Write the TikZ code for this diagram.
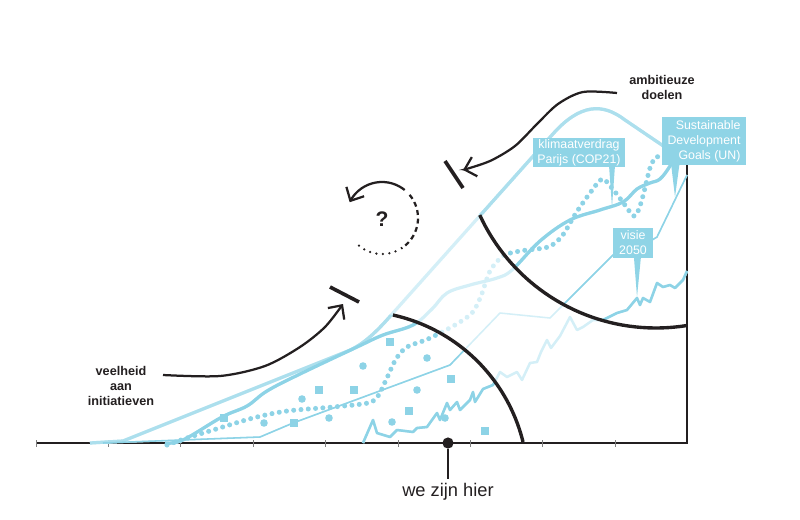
\documentclass[tikz,border=0pt]{standalone}
\usepackage{fontspec}
\setmainfont{Liberation Sans}
\usepackage{tikz}
\usetikzlibrary{arrows.meta}
\definecolor{trendblue}{RGB}{141,211,230}
\definecolor{paleblue}{RGB}{172,223,237}
\definecolor{fadeblue}{RGB}{212,239,247}
\definecolor{boxblue}{RGB}{143,212,230}
\definecolor{ink}{RGB}{35,31,32}
\tikzset{
        >={Straight Barb[length=2.6mm, width=5mm]}, % open arrow heads
        trend/.style={line width=2.3pt, line join=round}, % thick trend lines
        thintrend/.style={line width=1.1pt, line join=round}, % thin trend line
        dotline/.style={line width=3.5pt, line cap=round, dash pattern=on 0pt off 5.2pt}, % dotted trend
        jagged/.style={line width=1.8pt, line join=round}, % jagged trend
        horizon/.style={line width=2.4pt, ink}, % the two black arcs
        sweep/.style={line width=1.6pt, ink}, % curved black arrows
        stopbar/.style={line width=2.6pt, ink},
        notelabel/.style={font=\fontsize{9}{10.7}\selectfont\bfseries, text=ink, align=center},
        infobox/.style={fill=boxblue, text=white, font=\fontsize{8.8}{10.7}\selectfont, inner sep=0pt},
        marksq/.style={fill=trendblue, minimum size=0.2cm, inner sep=0pt},
        markdot/.style={fill=trendblue, circle, minimum size=0.19cm, inner sep=0pt},
    }
% all trend lines; #1 colour of the envelope, #2 colour of the others
\newcommand{\trends}[2]{%
  \draw[trend, #1] (90,443) -- (123,441) -- (348,351) .. controls (365,344) and (380,328) .. (393,313)
    -- (552,135) .. controls (580,103) and (603,103) .. (625,120) -- (687,162);
  \draw[trend, #2] plot[smooth, tension=0.6] coordinates {(165,443) (183,440) (222,417) (247,406)
    (267,391) (300,374) (357,347) (383,335) (413,325) (432,309) (447,293) (470,285) (497,278)
    (512,270) (540,241) (570,220) (600,210) (623,202) (637,189) (650,183) (660,179) (670,166) (678,150)};
  \draw[thintrend, #2] (103,443) -- (260,437) -- (293,423) -- (450,365) -- (500,313) -- (550,318)
    -- (613,255) -- (652,240) -- (657,237) -- (687,175);
  \draw[dotline, #2] plot[smooth] coordinates {(167,445) (187,438) (213,430) (253,418) (287,411)
    (333,407) (368,403) (378,396) (386,380) (396,359) (407,347) (428,339) (455,325) (472,313)
    (481,296) (490,271) (503,256) (520,251) (548,247) (562,236) (576,213) (590,193) (602,179)
    (611,187) (622,201) (634,216) (640,206) (645,188) (650,168) (656,157) (664,158) (670,150)};
  \draw[jagged, #2] (363,443) -- (373,420) -- (377,433) -- (390,437) -- (397,430) -- (413,432)
    -- (417,428) -- (427,427) -- (437,413) -- (440,420) -- (447,403) -- (450,410) -- (457,402)
    -- (460,410) -- (470,400) -- (473,392) -- (475,402) -- (483,389) -- (493,385) -- (500,372)
    -- (507,377) -- (517,372) -- (522,380) -- (530,363) -- (537,362) -- (541,352) -- (547,340)
    -- (551,348) -- (560,336) -- (570,317) -- (577,330) -- (583,327) -- (593,320) -- (603,320)
    -- (617,313) -- (627,310) -- (637,298) -- (640,305) -- (643,298) -- (650,302) -- (657,283)
    -- (663,287) -- (670,285) -- (675,288) -- (683,280) -- (687,271);
}
\begin{document}
\begin{tikzpicture}[x=0.025cm, y=-0.025cm]
  \useasboundingbox (0,0) rectangle (800,519);
  % time axis
  \draw[line width=1.5pt, ink] (36,443) -- (687,443) -- (687,118);
  \foreach \k in {0,...,8}
    \draw[gray, line width=0.6pt] ({36+72.4*\k},440) -- ++(0,7);
  % trends, faded between the arcs
  \trends{fadeblue}{fadeblue}
  \begin{scope}
    \clip (0,0) -- (356,0) -- plot[domain=-90:0, samples=30] ({356+172*cos(\x)},{483+172*sin(\x)})
      -- (528,519) -- (0,519) -- cycle;
    \trends{paleblue}{trendblue}
  \end{scope}
  \begin{scope}
    \clip (656,134) circle[radius=4.85cm];
    \trends{paleblue}{trendblue}
  \end{scope}
  % scattered initiatives
  \foreach \p in {(390,342),(319,390),(354,390),(224,418),(294,423),(451,379),(409,411),(485,431)}
    \node[marksq] at \p {};
  \foreach \p in {(363,366),(427,358),(302,399),(417,390),(264,423),(329,418),(392,422),(445,418)}
    \node[markdot] at \p {};
  % arcs
  \draw[horizon] plot[domain=-77.6:-13.8, samples=40] ({356+172*cos(\x)},{483+172*sin(\x)});
  \draw[horizon] plot[domain=80.8:155.3, samples=40] ({656+194*cos(\x)},{134+194*sin(\x)});
  % arrows
  \draw[sweep, ->] plot[smooth] coordinates {(163,375) (220,376) (265,366) (300,347) (325,327) (343,304)};
  \draw[sweep, ->] plot[smooth] coordinates {(617,93) (583,92) (558,104) (537,124) (515,146) (490,161) (463,170)};
  \draw[stopbar] (330,287) -- (359,302);
  \draw[stopbar] (445,161) -- (463,188);
  % circle with question mark
  \draw[sweep, <-] plot[domain=-154:-51, samples=30] ({382+36*cos(\x)},{218+36*sin(\x)});
  \draw[sweep, dash pattern=on 3.5pt off 2.6pt] plot[domain=-40:58, samples=30] ({382+36*cos(\x)},{218+36*sin(\x)});
  \draw[line width=1.8pt, ink, line cap=round, dash pattern=on 0pt off 4.6pt]
    plot[domain=68:135, samples=30] ({382+36*cos(\x)},{218+36*sin(\x)});
  \node[font=\fontsize{15}{18}\selectfont\bfseries, text=ink] (vraag) at (382,219) {?};
  % labels
  \node[notelabel] (veelheid) at (121,386) {veelheid\\aan\\initiatieven};
  \node[notelabel] (ambitie) at (662,87) {ambitieuze\\doelen};
  % we are here
  \node[circle, fill=ink, minimum size=0.28cm, inner sep=0pt] (nu) at (448,443) {};
  \node[anchor=base, font=\fontsize{13}{15}\selectfont, text=ink, inner sep=0pt] (hier) at (448,496) {we zijn hier};
  \draw[line width=1.5pt, ink, shorten >=2.5pt] (nu) -- (hier.north);
  % milestones
  \node[infobox, minimum width=2.3cm, minimum height=0.73cm, align=center] (klimaat) at (579,152.5) {klimaatverdrag\\Parijs (COP21)};
  \node[infobox, minimum width=2.1cm, minimum height=1.2cm, align=right] (sdg) at (704,141) {Sustainable\\Development\\Goals (UN)};
  \node[infobox, minimum width=1cm, minimum height=0.75cm, align=center] (visie) at (633,243) {visie\\2050};
  \coordinate (klimaattip) at (612,207);
  \coordinate (sdgtip) at (675,197);
  \coordinate (visietip) at (637,297);
  \fill[boxblue] ([xshift=-2.1pt, yshift=1pt]klimaat.south -| klimaattip) -- (klimaattip)
    -- ([xshift=2.1pt, yshift=1pt]klimaat.south -| klimaattip) -- cycle;
  \fill[boxblue] ([xshift=-2.8pt, yshift=1pt]sdg.south -| sdgtip) -- (sdgtip)
    -- ([xshift=3.2pt, yshift=1pt]sdg.south -| sdgtip) -- cycle;
  \fill[boxblue] ([xshift=-2.2pt, yshift=1pt]visie.south -| visietip) -- (visietip)
    -- ([xshift=2.8pt, yshift=1pt]visie.south -| visietip) -- cycle;
\end{tikzpicture}
\end{document}
